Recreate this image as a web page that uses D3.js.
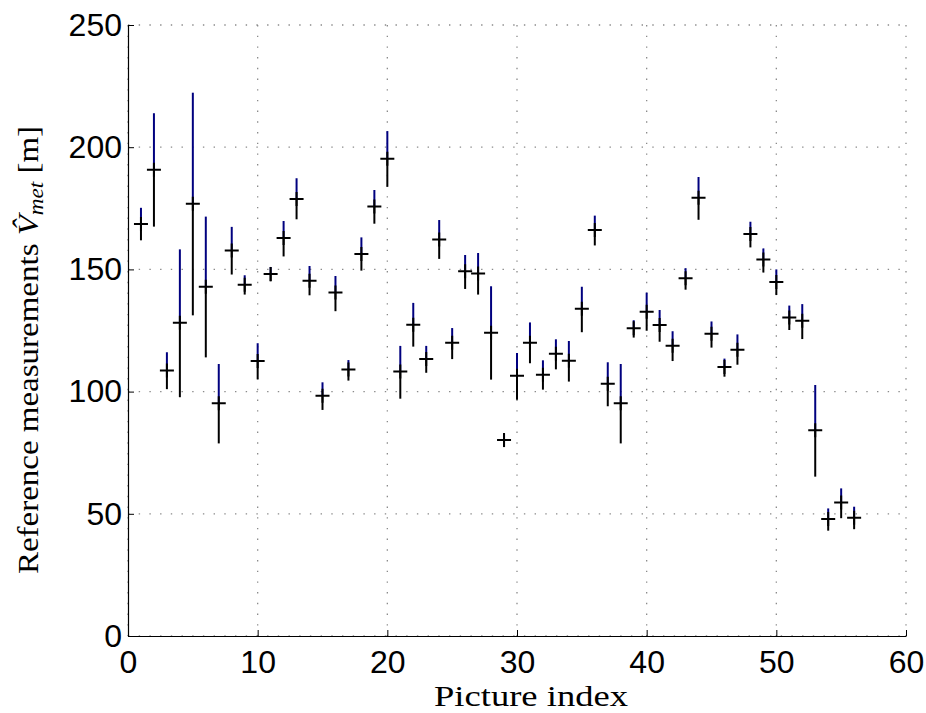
<!DOCTYPE html>
<head>
<meta charset="utf-8">
<title>Reference measurements</title>
<script src="https://cdn.jsdelivr.net/npm/d3@7"></script>
<style>
  body { margin: 0; background: #fff; }
  .tick text { font-family: "Liberation Sans", Arial, sans-serif; }
  .lbl { font-family: "Liberation Serif", "DejaVu Serif", serif; }
</style>
</head>
<body>
<svg width="926" height="713"></svg>
<script>
// picture index 1..56
var idx = d3.range(1, 57)
var value = [168.6,190.8,108.6,128.2,176.9,142.9,95.2,157.7,143.7,112.5,148.1,162.8,178.8,145.4,98.3,140.5,109,156.3,175.7,195.3,
  108.2,127.4,113.3,162.2,120,149.2,148.3,124.1,80.2,106.5,120,106.9,115.5,112.6,133.9,166.1,103.2,95.2,125.9,132.7,
  127.3,118.8,146.4,179.3,123.7,110.1,117.1,164.5,154,144.8,130.3,129,84.2,47.9,54.6,48.4]
var lower = [161.9,167.5,101,97.7,131.2,114,78.8,147.9,139.7,105,145.1,155.3,170.5,139.4,92.5,132.9,104.5,149.5,168.7,183.8,
  97.1,118.4,107.7,154.3,113.3,142,139.7,104.9,77.3,96.7,111.6,100.8,109.1,104.1,124.3,159.8,94,78.8,122.1,124.9,
  120.4,112.5,141.7,170.3,118,106.1,111,159,148.7,139.5,125.2,121.5,65.2,43.1,48.2,43.7]
var upper = [175.2,213.9,116.1,158.2,222.3,171.6,111.3,167.4,147.6,119.8,151,169.8,187.3,151.4,103.8,147.3,112.9,163.1,182.5,206.6,
  118.7,136.3,118.7,170.2,126,155.9,156.7,143.1,82.9,115.8,128.3,112.8,121.4,120.7,142.9,172,112,111.3,129.2,140.5,
  133.4,124.7,150.5,187.8,128.7,113.5,123.4,169.5,158.6,150,135.2,135.8,102.7,52.2,60.4,52.9]
var xTicks = [0, 10, 20, 30, 40, 50, 60]
var yTicks = [0, 50, 100, 150, 200, 250]

var data = idx.map(function (d, i) { return {i: d, v: value[i], lo: lower[i], hi: upper[i]} })

var svg = d3.select('svg')
var m = {left: 128, right: 20, top: 25, bottom: 77}
var W = 926 - m.left - m.right, H = 713 - m.top - m.bottom

var x = d3.scaleLinear().domain([0, 60]).range([0, W])
var y = d3.scaleLinear().domain([0, 250]).range([H, 0])

var g = svg.append('g').attr('transform', 'translate(' + m.left + ',' + m.top + ')')

// dotted grid
g.append('g').selectAll('line').data(xTicks).enter().append('line')
  .attr('x1', x).attr('x2', x).attr('y1', 0).attr('y2', H)
  .attr('stroke', '#8a8a8a').attr('stroke-width', 1.3).attr('stroke-dasharray', '1.4,9.3')
g.append('g').selectAll('line').data(yTicks).enter().append('line')
  .attr('y1', y).attr('y2', y).attr('x1', 0).attr('x2', W)
  .attr('stroke', '#8a8a8a').attr('stroke-width', 1.3).attr('stroke-dasharray', '1.4,9.3')

// axes, ticks pointing inward
var xa = g.append('g').attr('transform', 'translate(0,' + H + ')')
  .call(d3.axisBottom(x).tickValues(xTicks).tickSizeInner(-6).tickSizeOuter(0).tickPadding(14))
var ya = g.append('g')
  .call(d3.axisLeft(y).tickValues(yTicks).tickSizeInner(-6).tickSizeOuter(0).tickPadding(6))
;[xa, ya].forEach(function (a) {
  a.select('.domain').attr('stroke', '#000').attr('stroke-width', 1.2)
  a.selectAll('.tick line').attr('stroke', '#000')
  a.selectAll('.tick text').attr('font-size', 32).attr('fill', '#000')
})

// error bars: upper part navy, lower part black
var pts = g.append('g').selectAll('g').data(data).enter().append('g')
pts.append('line')
  .attr('x1', function (d) { return x(d.i) }).attr('x2', function (d) { return x(d.i) })
  .attr('y1', function (d) { return y(d.hi) }).attr('y2', function (d) { return y(d.v) })
  .attr('stroke', '#00007f').attr('stroke-width', 2)
pts.append('line')
  .attr('x1', function (d) { return x(d.i) }).attr('x2', function (d) { return x(d.i) })
  .attr('y1', function (d) { return y(d.v) }).attr('y2', function (d) { return y(d.lo) })
  .attr('stroke', '#000').attr('stroke-width', 2)
// '+' markers
pts.append('path')
  .attr('d', function (d) {
    var cx = x(d.i), cy = y(d.v), r = 7
    return 'M' + (cx - r) + ',' + cy + 'H' + (cx + r) + 'M' + cx + ',' + (cy - r) + 'V' + (cy + r)
  })
  .attr('stroke', '#000').attr('stroke-width', 2).attr('fill', 'none')

// axis titles
svg.append('text').attr('class', 'lbl')
  .attr('transform', 'translate(531,706) scale(1.22,1)')
  .attr('text-anchor', 'middle').attr('font-size', 30)
  .text('Picture index')

var yl = svg.append('text').attr('class', 'lbl')
  .attr('transform', 'translate(38,350) rotate(-90) scale(1.1,1)')
  .attr('text-anchor', 'middle').attr('font-size', 30)
yl.append('tspan').text('Reference measurements ')
yl.append('tspan').attr('font-style', 'italic').text('V\u0302')
yl.append('tspan').attr('font-style', 'italic').attr('font-size', 21).attr('dy', 5).text('met')
yl.append('tspan').attr('dy', -5).text(' [m]')
</script>
</body>
